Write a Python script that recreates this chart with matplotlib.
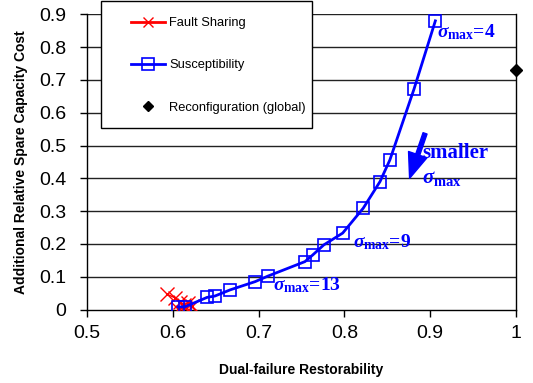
import matplotlib
matplotlib.use("Agg")
import matplotlib.pyplot as plt
from matplotlib.lines import Line2D
from matplotlib.patches import Rectangle

plt.rcParams["font.family"] = ["Liberation Sans", "DejaVu Sans"]
plt.rcParams["mathtext.fontset"] = "custom"
plt.rcParams["mathtext.rm"] = "Liberation Serif:bold"
plt.rcParams["mathtext.it"] = "Liberation Serif:italic:bold"
plt.rcParams["mathtext.bf"] = "Liberation Serif:bold"

# Fault Sharing
fs_x = [0.593, 0.603, 0.608, 0.613, 0.618, 0.622, 0.614, 0.606]
fs_y = [0.047, 0.035, 0.022, 0.015, 0.020, 0.010, 0.004, 0.003]

# Susceptibility
su_x = [0.606, 0.614, 0.640, 0.649, 0.667, 0.696, 0.711, 0.754, 0.763,
        0.776, 0.798, 0.822, 0.8415, 0.853, 0.881, 0.906]
su_y = [0.008, 0.008, 0.037, 0.041, 0.060, 0.085, 0.102, 0.146, 0.166,
        0.197, 0.233, 0.309, 0.390, 0.456, 0.671, 0.880]

# Reconfiguration (global)
rc_x = [1.0]
rc_y = [0.730]

x_ticks = [0.5, 0.6, 0.7, 0.8, 0.9, 1.0]
x_labels = ["0.5", "0.6", "0.7", "0.8", "0.9", "1"]
y_ticks = [0, 0.1, 0.2, 0.3, 0.4, 0.5, 0.6, 0.7, 0.8, 0.9]
y_labels = ["0", "0.1", "0.2", "0.3", "0.4", "0.5", "0.6", "0.7", "0.8", "0.9"]

fig = plt.figure(figsize=(5.33, 3.83), dpi=100)
ax = fig.add_axes([87 / 533, 1 - 309.5 / 383, (516 - 87) / 533, (309.5 - 14.3) / 383])

ax.set_xlim(0.5, 1.0)
ax.set_ylim(0, 0.9)
for yv in y_ticks[1:]:
    ax.axhline(yv, color="#222222", lw=1.0, zorder=1)

ax.plot(fs_x, fs_y, color="red", lw=1.0, marker="x", ms=10, mew=1.0, zorder=3)
ax.plot(su_x, su_y, color="blue", lw=2.0, marker="s", ms=8, mew=1.2,
        mfc="none", mec="blue", zorder=4)
ax.plot(rc_x, rc_y, ls="none", marker="D", ms=6.5, color="black",
        clip_on=False, zorder=5)

ax.spines["top"].set_visible(False)
for s in ["left", "bottom", "right"]:
    ax.spines[s].set_linewidth(1.0)

ax.set_xticks(x_ticks)
ax.set_xticklabels(x_labels)
ax.set_yticks(y_ticks)
ax.set_yticklabels(y_labels)
ax.tick_params(axis="both", direction="out", length=5, width=1.0, labelsize=14)
ax.tick_params(axis="x", pad=6)
ax.tick_params(axis="y", pad=10)

ax.set_xlabel("Dual-failure Restorability", fontsize=10, fontweight="bold", labelpad=15)
ax.set_ylabel("Additional Relative Spare Capacity Cost", fontsize=10,
              fontweight="bold", labelpad=8)

# annotations
ann = dict(color="blue", fontsize=14, family="Liberation Serif", fontweight="bold",
           va="center", ha="left")
ax.text(0.908, 0.846, r"$\sigma_{\rm max}$=4", **ann)
ax.text(0.810, 0.206, r"$\sigma_{\rm max}$=9", **ann)
ax.text(0.717, 0.075, r"$\sigma_{\rm max}$=13", **ann)
ax.text(0.891, 0.478, "smaller", **dict(ann, fontsize=15))
ax.text(0.891, 0.400, r"$\sigma_{\rm max}$", **dict(ann, fontsize=15))
ax.annotate("", xy=(0.876, 0.400), xytext=(0.894, 0.537),
            arrowprops=dict(facecolor="blue", edgecolor="blue", width=3,
                            headwidth=14, headlength=18))

# legend with a separate frame
fig.patches.append(Rectangle((101 / 533, 1 - 128 / 383), (312 - 101) / 533, 127 / 383,
                             transform=fig.transFigure, facecolor="white",
                             edgecolor="black", lw=1.0, zorder=6))
handles = [
    Line2D([], [], color="red", lw=2, marker="x", ms=7, mew=1.0),
    Line2D([], [], color="blue", lw=2, marker="s", ms=8, mew=1.2, mfc="none"),
    Line2D([], [], ls="none", marker="D", ms=5, color="black"),
]
labels = ["Fault Sharing", "Susceptibility", "Reconfiguration (global)"]
leg = fig.legend(handles, labels, loc="upper left",
                 bbox_to_anchor=(131 / 533, 1 - 17 / 383), frameon=False,
                 fontsize=9.3, borderpad=0, borderaxespad=0, handlelength=2.6,
                 handletextpad=0.35, labelspacing=2.35)
leg.set_zorder(7)

fig.savefig("out.png", dpi=100)
